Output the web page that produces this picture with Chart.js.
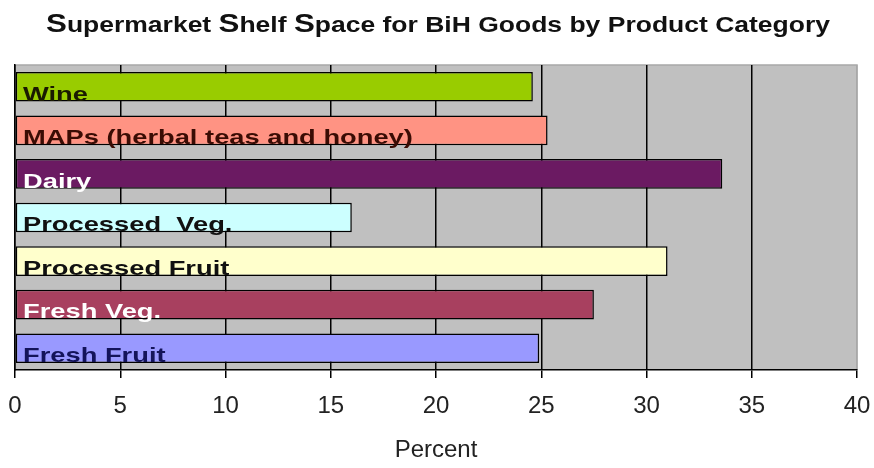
<!DOCTYPE html>
<html lang="en">
<head>
  <meta charset="UTF-8" />
  <title>Supermarket Shelf Space for BiH Goods</title>
  <style>
    * { margin: 0; padding: 0; box-sizing: border-box; }
    body { background: #ffffff; width: 874px; height: 468px; overflow: hidden; }
    .wrap { position: relative; width: 874px; height: 468px; }
  </style>
</head>
<body>
  <div class="wrap"><canvas id="shelfChart"></canvas></div>

  <script src="https://cdn.jsdelivr.net/npm/chart.js"></script>
  <script>
    // shelf space share per product category (percent), top to bottom
    const categories = ['Wine', 'MAPs (herbal teas and honey)', 'Dairy', 'Processed  Veg.', 'Processed Fruit', 'Fresh Veg.', 'Fresh Fruit'];
    const shelfShare = [24.6, 25.3, 33.6, 16.0, 31.0, 27.5, 24.9];
    const barColors = ['#99cc00', '#ff9383', '#6b1a62', '#ccffff', '#ffffcc', '#a8405f', '#9999ff'];
    const labelColors = ['#1a1a00', '#3a0c04', '#ffffff', '#111111', '#111111', '#ffffff', '#14145a'];
    const titleText = 'Supermarket Shelf Space for BiH Goods by Product Category';

    // grey plot background + light frame on top/right
    const plotBackground = {
      id: 'plotBackground',
      beforeDraw(chart) {
        const { ctx, chartArea: a } = chart;
        ctx.save();
        ctx.fillStyle = '#c0c0c0';
        ctx.fillRect(a.left, a.top, a.right - a.left, a.bottom - a.top);
        ctx.strokeStyle = '#a8a8a8';
        ctx.lineWidth = 1.5;
        ctx.beginPath();
        ctx.moveTo(a.left, a.top);
        ctx.lineTo(a.right, a.top);
        ctx.lineTo(a.right, a.bottom);
        ctx.stroke();
        ctx.restore();
      }
    };

    // category names written inside each bar (wide, stretched lettering)
    const barNames = {
      id: 'barNames',
      afterDatasetsDraw(chart) {
        const { ctx } = chart;
        const meta = chart.getDatasetMeta(0);
        const stretch = 1.3;
        ctx.save();
        ctx.font = 'bold 21px Arial, "Liberation Sans", sans-serif';
        ctx.textAlign = 'left';
        ctx.textBaseline = 'alphabetic';
        meta.data.forEach((bar, i) => {
          ctx.save();
          ctx.translate(chart.chartArea.left + 8, bar.y + bar.height / 2 - 1);
          ctx.scale(stretch, 1);
          ctx.fillStyle = labelColors[i];
          ctx.fillText(categories[i], 0, 0);
          ctx.restore();
        });
        ctx.restore();
      }
    };

    // title with the larger initial S's, stretched to its full width
    const bigTitle = {
      id: 'bigTitle',
      afterDraw(chart) {
        const { ctx } = chart;
        const small = 'bold 22px Arial, "Liberation Sans", sans-serif';
        const big = 'bold 26px Arial, "Liberation Sans", sans-serif';
        const parts = [];
        titleText.split(' ').forEach((w, i) => {
          if (i > 0) parts.push({ t: ' ', f: small });
          if (i < 3 && w[0] === 'S') {
            parts.push({ t: 'S', f: big });
            parts.push({ t: w.slice(1), f: small });
          } else {
            parts.push({ t: w, f: small });
          }
        });
        ctx.save();
        let total = 0;
        parts.forEach(p => { ctx.font = p.f; p.w = ctx.measureText(p.t).width; total += p.w; });
        const width = 784;
        ctx.translate(438 - width / 2, 32);
        ctx.scale(width / total, 1);
        ctx.fillStyle = '#111111';
        ctx.textBaseline = 'alphabetic';
        let x = 0;
        parts.forEach(p => { ctx.font = p.f; ctx.fillText(p.t, x, 0); x += p.w; });
        ctx.restore();
      }
    };

    new Chart(document.getElementById('shelfChart'), {
      type: 'bar',
      data: {
        labels: categories,
        datasets: [{
          data: shelfShare,
          backgroundColor: barColors,
          borderColor: '#000000',
          borderWidth: 1.5,
          borderSkipped: false,
          barPercentage: 0.68,
          categoryPercentage: 1
        }]
      },
      options: {
        indexAxis: 'y',
        responsive: true,
        maintainAspectRatio: false,
        animation: false,
        layout: { padding: { top: 65, left: 15, right: 17, bottom: 0 } },
        plugins: {
          legend: { display: false },
          title: { display: false },
          tooltip: { enabled: false }
        },
        scales: {
          x: {
            min: 0,
            max: 40,
            afterFit(scale) {
              scale.height = 98;
              scale.paddingLeft = 0;
              scale.paddingRight = 0;
            },
            ticks: {
              stepSize: 5,
              padding: 14,
              color: '#222222',
              font: { family: 'Arial, "Liberation Sans", sans-serif', size: 24 }
            },
            grid: {
              color: ctx => ctx.tick && ctx.tick.value === 40 ? '#a8a8a8' : '#000000',
              tickColor: '#000000',
              lineWidth: 1.5,
              tickLength: 8
            },
            border: { color: '#000000', width: 1.5 },
            title: {
              display: true,
              text: 'Percent',
              color: '#222222',
              font: { family: 'Arial, "Liberation Sans", sans-serif', size: 24 },
              padding: { top: 0, bottom: 3 }
            }
          },
          y: {
            afterFit(scale) { scale.width = 0; },
            ticks: { display: false },
            grid: { display: false },
            border: { color: '#000000', width: 1.5 }
          }
        }
      },
      plugins: [plotBackground, barNames, bigTitle]
    });
  </script>
</body>
</html>
